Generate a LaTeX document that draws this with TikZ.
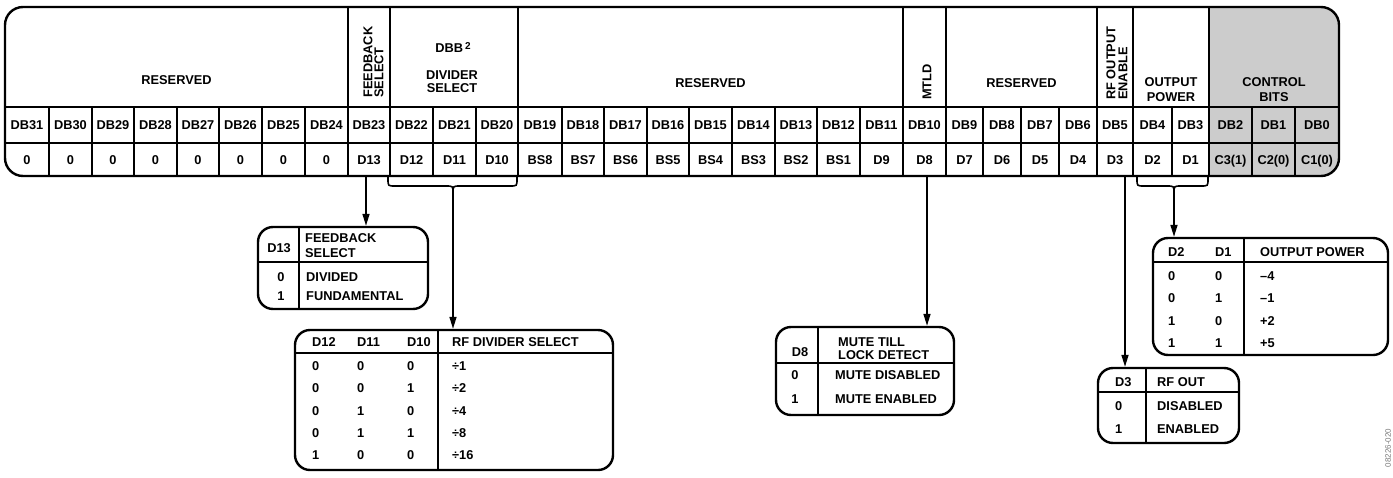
\documentclass[tikz,border=0pt]{standalone}
\usepackage{fontspec}
\setmainfont{Liberation Sans}
\usetikzlibrary{arrows.meta}
\definecolor{ctrlgray}{HTML}{CCCCCC}
\definecolor{notegray}{HTML}{7A7A7A}
\newcommand\lblfont{\fontsize{12.8}{13}\selectfont\bfseries}
\newcommand\lblfontsk[1]{\fontsize{12.8}{#1}\selectfont\bfseries}

\begin{document}
\begin{tikzpicture}[x=1pt,y=-1pt,
  thickln/.style={line width=2.4pt},
  thinln/.style={line width=1.6pt},
  lbl/.style={font=\lblfont, inner sep=0pt, text height=9.2pt, text depth=0pt},
  lblL/.style={lbl, anchor=west},
  multi/.style={font=\lblfont, inner sep=0pt, align=center},
  rot/.style={font=\lblfont, inner sep=0pt, align=left, rotate=90, anchor=west},
  tbox/.style={draw, line width=2.4pt, rounded corners=15pt, inner sep=0pt},
  arr/.style={line width=1.6pt, -{Triangle[length=12pt,width=7pt]}},
  bracepath/.style={line width=1.6pt},
]
\useasboundingbox (0,0) rectangle (1393,477);

% ---------- register ----------
\begin{scope}
  \clip[rounded corners=18pt] (5,7) rectangle (1339,176);
  \fill[ctrlgray] (1209,7) rectangle (1339,176);
\end{scope}
\draw[thickln, rounded corners=18pt] (5,7) rectangle (1339,176);
\draw[thinln] (5,107) -- (1339,107);
\draw[thinln] (5,143) -- (1339,143);
\foreach \x in {348,390,518,903,946,1097,1133,1209}
  \draw[thinln] (\x,7) -- (\x,107);
\foreach \x in {49,92,134,177,219,262,305,348,390,433,476,518,562,604,647,689,732,775,817,860,903,946,983,1021,1059,1097,1133,1172,1209,1252,1295}
  \draw[thinln] (\x,107) -- (\x,176);

\foreach \n/\l/\r/\v in {31/5/49/0, 30/49/92/0, 29/92/134/0, 28/134/177/0, 27/177/219/0, 26/219/262/0, 25/262/305/0, 24/305/348/0,
  23/348/390/D13, 22/390/433/D12, 21/433/476/D11, 20/476/518/D10,
  19/518/562/BS8, 18/562/604/BS7, 17/604/647/BS6, 16/647/689/BS5, 15/689/732/BS4, 14/732/775/BS3, 13/775/817/BS2, 12/817/860/BS1, 11/860/903/D9,
  10/903/946/D8, 9/946/983/D7, 8/983/1021/D6, 7/1021/1059/D5, 6/1059/1097/D4, 5/1097/1133/D3, 4/1133/1172/D2, 3/1172/1209/D1,
  2/1209/1252/C3(1), 1/1252/1295/C2(0), 0/1295/1339/C1(0)}
{
  \node[lbl] (db\n) at ({(\l+\r)/2},125) {DB\n};
  \node[lbl] (v\n) at ({(\l+\r)/2},159.5) {\v};
}

% header labels
\node[lbl] (hres1) at (176.5,80) {RESERVED};
\node[rot, font=\lblfontsk{11}] (hfb) at (373.5,98) {FEEDBACK\\SELECT};
\node[lbl] (hdbb) at (453,48) {DBB\,\raisebox{3.5pt}{\fontsize{10}{10}\selectfont 2}};
\node[multi, font=\lblfontsk{13}] (hdiv) at (452,81.5) {DIVIDER\\SELECT};
\node[lbl] (hres2) at (710.5,83) {RESERVED};
\node[rot] (hmtld) at (927,100) {MTLD};
\node[lbl] (hres3) at (1021.5,83) {RESERVED};
\node[rot, font=\lblfontsk{12}] (hrf) at (1117,100) {RF OUTPUT\\ENABLE};
\node[multi, font=\lblfontsk{15}] (hpow) at (1171,89.5) {OUTPUT\\POWER};
\node[multi, font=\lblfontsk{15}] (hctl) at (1274,89.5) {CONTROL\\BITS};

% ---------- braces ----------
\draw[bracepath] (388,177) -- (388,179) .. controls (388,186) .. (395,186) -- (446,186)
  .. controls (453,186) .. (453,193) .. controls (453,186) .. (460,186) -- (510,186)
  .. controls (517,186) .. (517,179) -- (517,177);
\coordinate (cusp1) at (453,193);
\draw[bracepath] (1137,177) -- (1137,179) .. controls (1137,186) .. (1144,186) -- (1167,186)
  .. controls (1174,186) .. (1174,193) .. controls (1174,186) .. (1181,186) -- (1201,186)
  .. controls (1208,186) .. (1208,179) -- (1208,177);
\coordinate (cusp2) at (1174,193);

% ---------- boxes ----------
% feedback select
\node[tbox, minimum width=170pt, minimum height=82pt] (fbbox) at (343,268) {};
\draw[thinln] (299,227) -- (299,309);
\draw[thinln] (258,262) -- (428,262);
\node[lbl] (fbh1) at (279,248) {D13};
\node[multi, align=left, anchor=west, font=\lblfontsk{14.4}] (fbh2) at (305,245.5) {FEEDBACK\\SELECT};
\node[lbl] (fb0) at (281,277) {0};
\node[lblL] (fb0t) at (306,277) {DIVIDED};
\node[lbl] (fb1) at (281,296) {1};
\node[lblL] (fb1t) at (306,296) {FUNDAMENTAL};

% rf divider select
\node[tbox, minimum width=318pt, minimum height=140pt] (rfdiv) at (454,400) {};
\draw[thinln] (438,330) -- (438,470);
\draw[thinln] (295,353) -- (613,353);
\node[lblL] (dvh1) at (312,342) {D12};
\node[lblL] (dvh2) at (357,342) {D11};
\node[lblL] (dvh3) at (407,342) {D10};
\node[lblL] (dvh4) at (452,342) {RF DIVIDER SELECT};
\foreach \y/\a/\b/\c/\d [count=\k] in {366/0/0/0/÷1, 388/0/0/1/÷2, 411/0/1/0/÷4, 433/0/1/1/÷8, 455/1/0/0/÷16}
{
  \node[lblL] (dv\k a) at (312,\y) {\a};
  \node[lblL] (dv\k b) at (357,\y) {\b};
  \node[lblL] (dv\k c) at (407,\y) {\c};
  \node[lblL] (dv\k d) at (452,\y) {\d};
}

% mute till lock detect
\node[tbox, minimum width=178pt, minimum height=88pt] (mute) at (865,371) {};
\draw[thinln] (818,327) -- (818,415);
\draw[thinln] (776,363) -- (954,363);
\node[lbl] (muh1) at (800,352) {D8};
\node[multi, align=left, anchor=west, font=\lblfontsk{13}] (muh2) at (838,348.5) {MUTE TILL\\LOCK DETECT};
\node[lbl] (mu0) at (795,375) {0};
\node[lblL] (mu0t) at (835,375) {MUTE DISABLED};
\node[lbl] (mu1) at (795,399) {1};
\node[lblL] (mu1t) at (835,399) {MUTE ENABLED};

% output power
\node[tbox, minimum width=235pt, minimum height=117pt] (opow) at (1270.5,296.5) {};
\draw[thinln] (1244,238) -- (1244,355);
\draw[thinln] (1153,262) -- (1388,262);
\node[lblL] (oph1) at (1168,252) {D2};
\node[lblL] (oph2) at (1215,252) {D1};
\node[lblL] (oph3) at (1260,252) {OUTPUT POWER};
\foreach \y/\a/\b/\c [count=\k] in {276/0/0/–4, 298/0/1/–1, 321/1/0/+2, 343/1/1/+5}
{
  \node[lblL] (op\k a) at (1168,\y) {\a};
  \node[lblL] (op\k b) at (1215,\y) {\b};
  \node[lblL] (op\k c) at (1260,\y) {\c};
}

% rf out
\node[tbox, minimum width=141pt, minimum height=75pt] (rfout) at (1168.5,405.5) {};
\draw[thinln] (1146,368) -- (1146,443);
\draw[thinln] (1098,392) -- (1239,392);
\node[lblL] (roh1) at (1115,382) {D3};
\node[lblL] (roh2) at (1157,382) {RF OUT};
\node[lblL] (ro0) at (1115,406) {0};
\node[lblL] (ro0t) at (1157,406) {DISABLED};
\node[lblL] (ro1) at (1115,429) {1};
\node[lblL] (ro1t) at (1157,429) {ENABLED};

% ---------- arrows ----------
\coordinate (s23) at (366,176);
\coordinate (s10) at (927,176);
\coordinate (s5) at (1125,176);
\draw[arr] (s23) -- (s23 |- fbbox.north);
\draw[arr] (cusp1) -- (cusp1 |- rfdiv.north);
\draw[arr] (s10) -- (s10 |- mute.north);
\draw[arr] (s5) -- (s5 |- rfout.north);
\draw[arr] (cusp2) -- (cusp2 |- opow.north);

% figure number
\node[font=\fontsize{8}{9}\selectfont, text=notegray, rotate=90, inner sep=0pt] (fignum) at (1388,448) {08226-020};
\end{tikzpicture}
\end{document}
